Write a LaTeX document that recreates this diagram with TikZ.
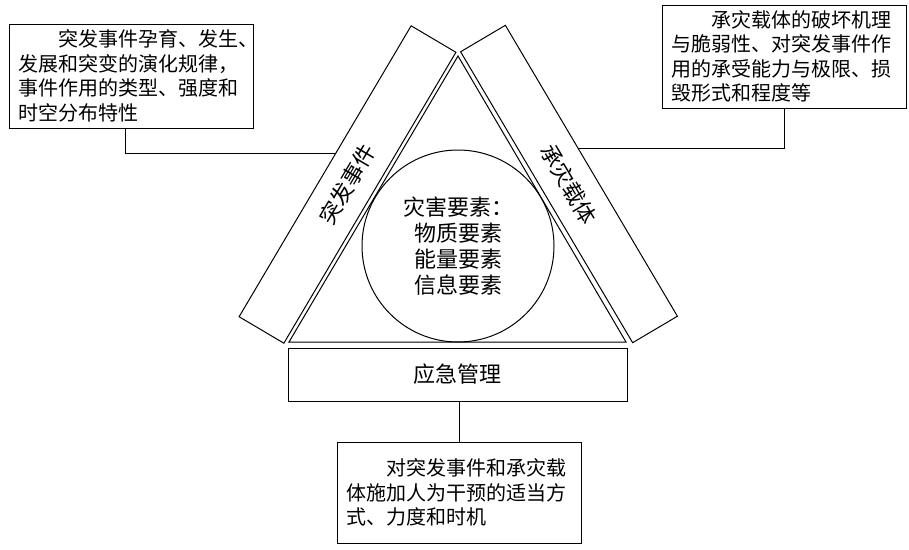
\documentclass[tikz,border=0pt]{standalone}
\usepackage{fontspec}
\newfontfamily\cjk{Noto Sans CJK SC}
\usetikzlibrary{calc}

\begin{document}
\begin{tikzpicture}[x=1pt,y=-1pt,line width=1pt,
		descbox/.style={draw,rectangle,align=left,text width=226pt,inner xsep=9pt,minimum height=104pt,font=\cjk\fontsize{20}{24.5}\selectfont},
		bar/.style={draw,rectangle,minimum width=338pt,minimum height=52pt,font=\cjk\fontsize{22}{26}\selectfont}]
				\useasboundingbox (0,0) rectangle (909,549);
				% triangle with the circle inside
				\draw (458,56) -- (289,342) -- (626,342) -- cycle;
				\node[circle,draw,minimum size=192pt,align=center,font=\cjk\fontsize{22}{26}\selectfont] (hazard) at (458,246) {灾害要素：\\物质要素\\能量要素\\信息要素};
				% the three sides
				\node[bar,rotate=59.4] (evbar) at (347.5,184.5) {突发事件};
				\node[bar,rotate=-59.4] (cabar) at (569,184) {承灾载体};
				\node[draw,minimum width=339pt,minimum height=53pt,font=\cjk\fontsize{22}{26}\selectfont] (mgmt) at (457.5,374.5) {应急管理};
				% description boxes
				\node[descbox] (evdesc) at (131,76) {\hspace*{2em}突发事件孕育、发生、\\发展和突变的演化规律，\\事件作用的类型、强度和\\时空分布特性};
				\node[descbox,minimum height=103pt] (cadesc) at (784,56.5) {\hspace*{2em}承灾载体的破坏机理\\与脆弱性、对突发事件作\\用的承受能力与极限、损\\毁形式和程度等};
				\node[descbox,minimum height=101pt] (mgdesc) at (459,492.5) {\hspace*{2em}对突发事件和承灾载\\体施加人为干预的适当方\\式、力度和时机};
				% connectors
				\coordinate (evjoin) at ($(evbar.north)!0.12!(evbar.north east)$);
				\coordinate (cajoin) at ($(cabar.north)!0.15!(cabar.north west)$);
				\draw ([xshift=-6pt]evdesc.south) |- (evjoin);
				\draw (cadesc.south) |- (cajoin);
				\draw (mgmt.south -| mgdesc.north) -- (mgdesc.north);
			\end{tikzpicture}
\end{document}
